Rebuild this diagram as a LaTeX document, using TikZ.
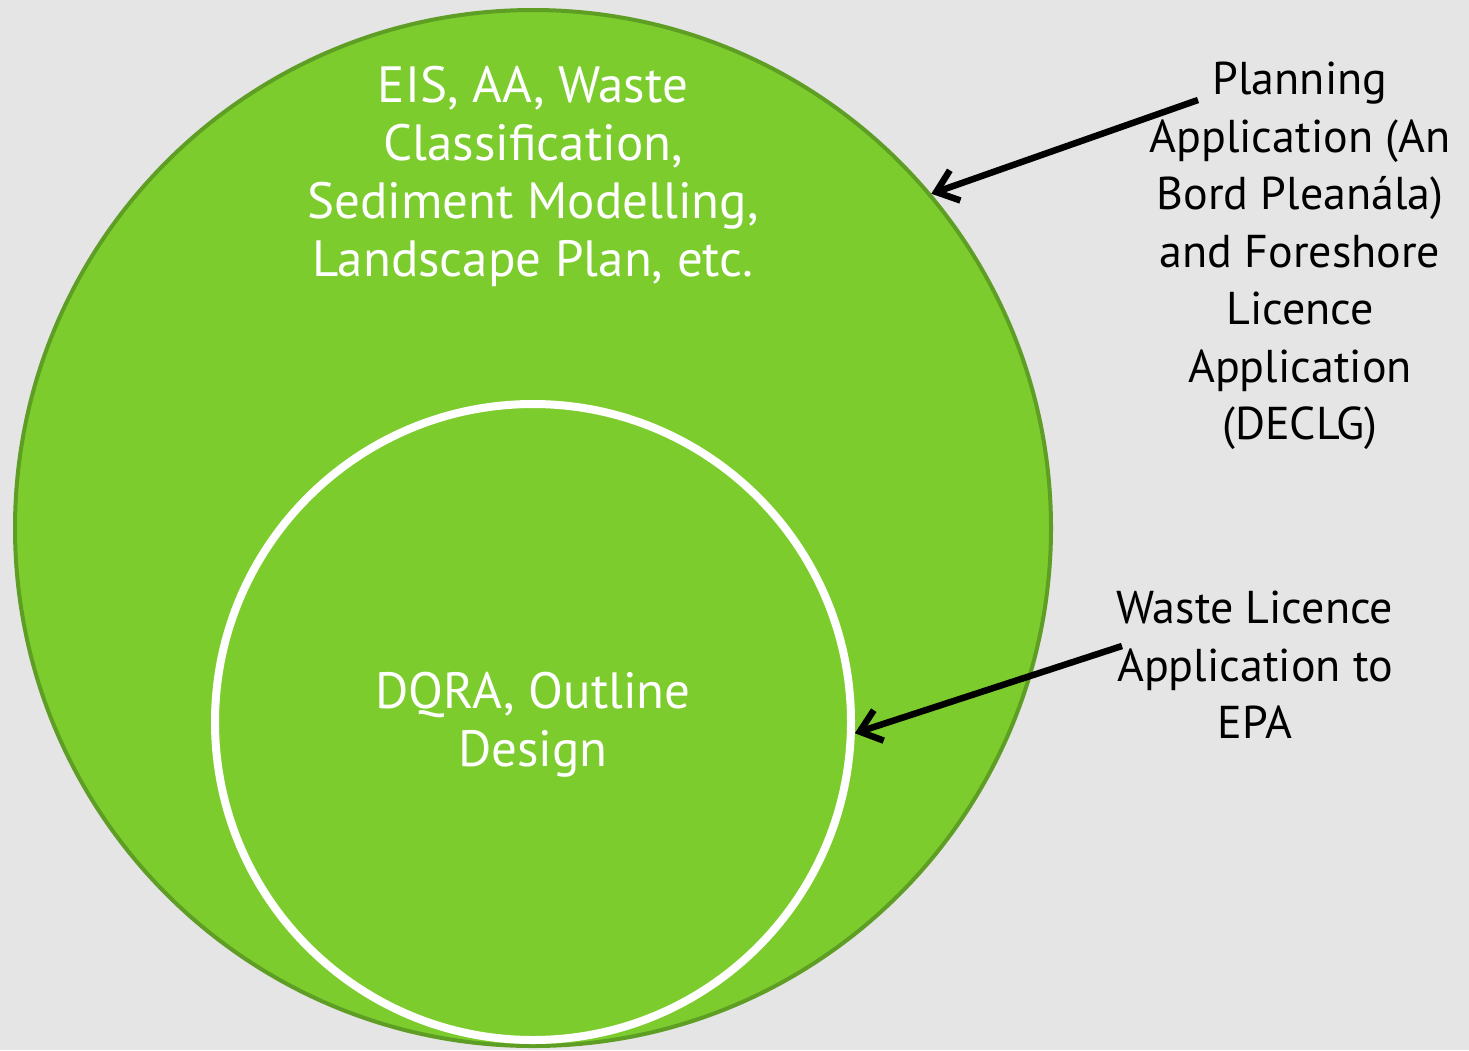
\documentclass[tikz,border=0pt]{standalone}
\usepackage{fontspec}
\setmainfont{PT Sans}
\usetikzlibrary{arrows.meta}
\definecolor{bg}{HTML}{E5E5E5}
\definecolor{gfill}{HTML}{7DCC2E}
\definecolor{gdark}{HTML}{5E9E24}
\begin{document}
\begin{tikzpicture}[x=1pt,y=-1pt,
  wlbl/.style={align=center,font=\fontsize{51}{58}\selectfont,inner sep=0pt,text=white},
  lbl/.style={align=center,font=\fontsize{46}{57.5}\selectfont,inner sep=0pt},
  arr/.style={-{Straight Barb[length=20pt,width=32pt]},line width=6.5pt,black}]
\fill[bg] (0,0) rectangle (1469,1050);
\useasboundingbox (0,0) rectangle (1469,1050);
\node[circle,minimum size=1036pt,fill=gfill,draw=gdark,line width=4pt,inner sep=0pt] (outer) at (533,528) {};
\node[circle,minimum size=636pt,fill=gfill,draw=white,line width=8pt,inner sep=0pt] (inner) at (533,722) {};
\node[wlbl,anchor=north] (t1) at (533,66) {EIS, AA, Waste\\Classification,\\Sediment Modelling,\\Landscape Plan, etc.};
\node[wlbl,anchor=north] (t2) at (533,672) {DQRA, Outline\\Design};
\node[lbl,anchor=north] (r1) at (1300,62) {Planning\\Application (An\\Bord Pleanála)\\and Foreshore\\Licence\\Application\\(DECLG)};
\node[lbl,anchor=north] (r2) at (1255,591) {Waste Licence\\Application to\\EPA};
\coordinate (a1s) at (1198,100);
\coordinate (a2s) at (1122,646);
\draw[arr] (a1s) -- (outer.{atan2(336,395)});
\draw[arr] (a2s) -- (inner.{atan2(-16,320)});
\end{tikzpicture}
\end{document}
